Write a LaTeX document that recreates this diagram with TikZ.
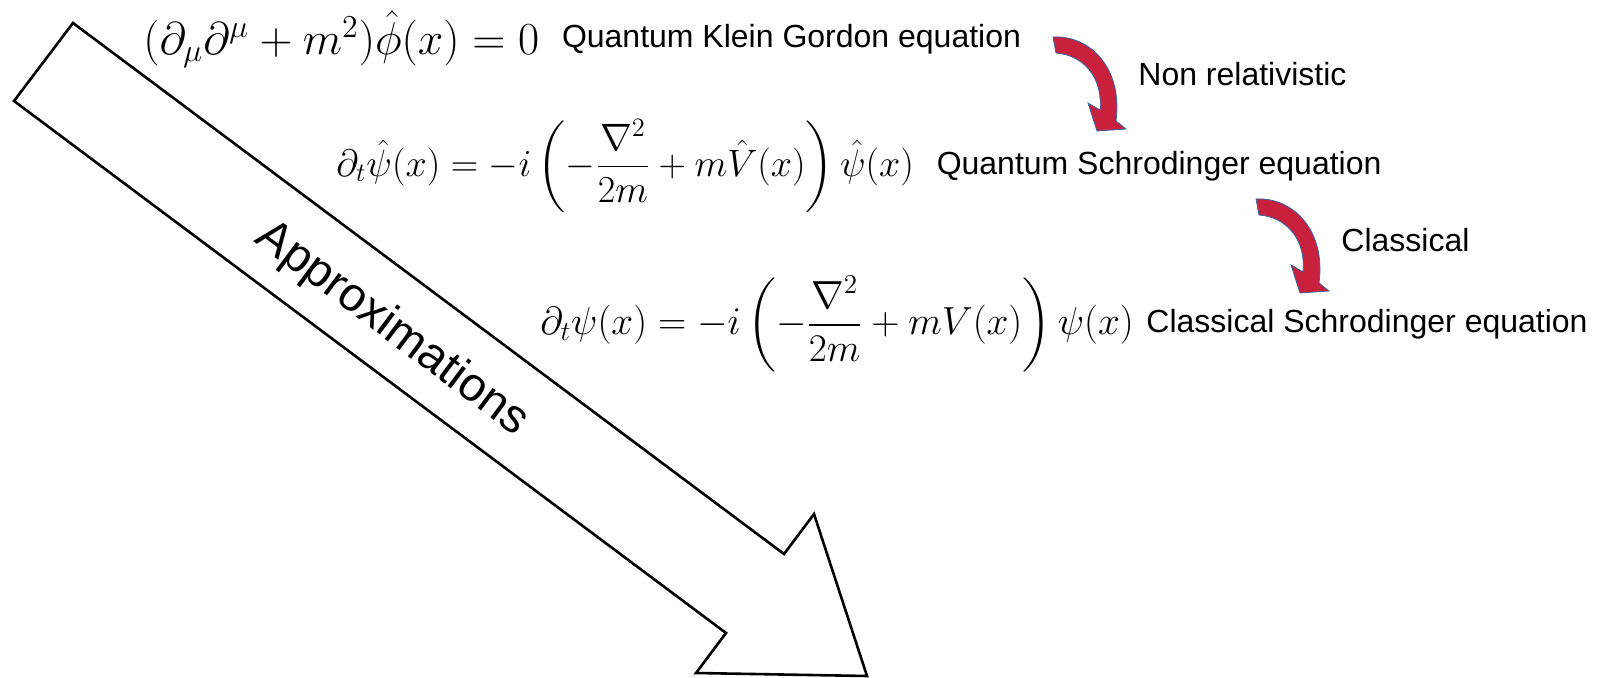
\documentclass[tikz,border=0pt]{standalone}
\usepackage{amsmath}
\usepackage{fontspec}
\newfontfamily\labelfont{Liberation Sans}
\usetikzlibrary{positioning}
\definecolor{arrowred}{RGB}{201,33,61}
\definecolor{arrowedge}{RGB}{52,101,164}

\tikzset{
    bentarrow/.pic={
        \fill[arrowred, draw=arrowedge, line width=0.4pt]
            (0,0) .. controls (36,-2) and (70,30) .. (63,84) -- (73,92) -- (44,94)
            -- (35,66) -- (47,73) .. controls (50,40) and (30,18) .. (3,16) -- cycle;
    }
}

\begin{document}
\begin{tikzpicture}[
    x=0.5pt, y=-0.5pt,
    eq/.style={inner sep=0pt, font=\fontsize{20}{24}\selectfont, transform shape},
    lbl/.style={inner sep=0pt, font=\labelfont\fontsize{16}{19}\selectfont},
    bigarrow/.style={draw, line width=1.3pt, line join=miter}
]
    \useasboundingbox (0,0) rectangle (1598,678);

    \draw[bigarrow] (73,23) -- (784,554) -- (814,514) -- (867,676)
        -- (696,673) -- (726,633) -- (14,101) -- cycle;
    \node[lbl, font=\labelfont\fontsize{23.7}{28}\selectfont, rotate=-36.75] (approx) at (392,329) {Approximations};

    \node[eq, scale=1.106, anchor=west] (kg) at (143,39) {$(\partial_\mu\partial^\mu + m^2)\hat{\phi}(x) = 0$};
    \node[lbl, right=11pt of kg] (kglbl) {Quantum Klein Gordon equation};

    \node[eq, scale=0.92, anchor=west] (qs) at (336,166) {$\displaystyle \partial_t\hat{\psi}(x) = -i\left(-\frac{\nabla^2}{2m} + m\hat{V}(x)\right)\hat{\psi}(x)$};
    \node[lbl, right=11pt of qs] (qslbl) {Quantum Schrodinger equation};

    \node[eq, scale=0.945, anchor=west] (cs) at (540,324) {$\displaystyle \partial_t\psi(x) = -i\left(-\frac{\nabla^2}{2m} + mV(x)\right)\psi(x)$};
    \node[lbl, right=6pt of cs] (cslbl) {Classical Schrodinger equation};

    \pic at (1053,37) {bentarrow};
    \node[lbl, anchor=west] (nonrel) at (1138,74) {Non relativistic};

    \pic at (1256,199) {bentarrow};
    \node[lbl, anchor=west] (classical) at (1341,240) {Classical};
\end{tikzpicture}
\end{document}
